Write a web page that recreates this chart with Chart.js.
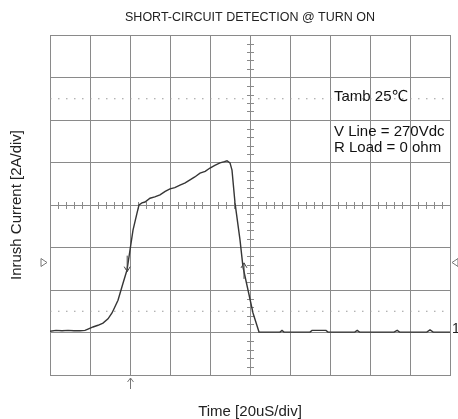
<!DOCTYPE html>
<html><head><meta charset="utf-8">
<script src="https://cdn.jsdelivr.net/npm/chart.js@4/dist/chart.umd.min.js"></script>
<style>html,body{margin:0;padding:0;background:#fff;overflow:hidden}</style>
</head><body>
<canvas id="c" width="458" height="419"></canvas>
<script>
// ---- data (time in divisions of 20uS, current in divisions of 2A) ----
const traceTime = [0, 0.15, 0.3, 0.45, 0.6, 0.75, 0.875, 0.95, 1.075, 1.2, 1.325, 1.45, 1.55, 1.7, 1.825, 1.925, 2.0, 2.075, 2.175, 2.225,
  2.3, 2.375, 2.5, 2.62, 2.75, 2.88, 3.0, 3.12, 3.25, 3.38, 3.5, 3.62, 3.75, 3.88, 4.0, 4.12, 4.25, 4.36, 4.425, 4.5, 4.55, 4.625, 4.75, 4.825, 4.95, 5.075, 5.225,
  5.5, 5.75, 5.8, 5.85, 6.2, 6.5, 6.55, 6.9, 6.95, 7.3, 7.62, 7.68, 7.74, 8.1, 8.6, 8.68, 8.74, 9.1, 9.42, 9.5, 9.58, 10];
const traceCurrent = [1.03, 1.05, 1.04, 1.05, 1.04, 1.04, 1.05, 1.08, 1.13, 1.17, 1.22, 1.32, 1.46, 1.76, 2.16, 2.47, 2.94, 3.41, 3.81, 4.0,
  4.05, 4.07, 4.16, 4.19, 4.24, 4.32, 4.38, 4.41, 4.47, 4.52, 4.59, 4.66, 4.75, 4.79, 4.87, 4.93, 4.99, 5.02, 5.04, 4.99, 4.82, 4.05, 3.18, 2.54, 2.0, 1.46, 1.01,
  1.01, 1.01, 1.05, 1.01, 1.01, 1.01, 1.05, 1.05, 1.01, 1.01, 1.01, 1.05, 1.01, 1.01, 1.01, 1.05, 1.01, 1.01, 1.01, 1.06, 1.01, 1.01];
const cursorLevels = [6.5, 1.5];
const timeRange = [0, 10];
const currentRange = [0, 8];
const centerTime = 5;
const centerLevel = 4;
const minorPerDiv = 5;
const triggerTime = 2.0;
const cursorDown = {t: 1.93, i: 2.62};
const cursorUp = {t: 4.85, i: 2.45};
const triggerLevel = 2.66;
const groundLevel = 1.01;
const notes = [
  {t: 7.1, i: 6.54, text: 'Tamb 25\u2103'},
  {t: 7.1, i: 5.72, text: 'V Line = 270Vdc'},
  {t: 7.1, i: 5.34, text: 'R Load = 0 ohm'}
];
const titleText = 'SHORT-CIRCUIT DETECTION @ TURN ON';
const xTitle = 'Time [20uS/div]';
const yTitle = 'Inrush Current [2A/div]';

// ---- styles ----
const FONT = '"Liberation Sans", Arial, "DejaVu Sans", sans-serif';
const gridColor = '#8a8a8a';
const traceColor = '#363636';

const toPts = (xs, ys) => xs.map((v, k) => ({x: v, y: ys[k]}));

const datasets = [{
  data: toPts(traceTime, traceCurrent),
  borderColor: traceColor, borderWidth: 1.4, pointRadius: 0, tension: 0, order: 0
}];
cursorLevels.forEach(l => datasets.push({
  data: [{x: timeRange[0], y: l}, {x: timeRange[1], y: l}],
  borderColor: '#9a9a9a', borderWidth: 1, borderDash: [1.5, 6.5], pointRadius: 0, order: 1
}));

const extras = {
  id: 'scopeExtras',
  beforeDatasetsDraw(chart) {
    const {ctx, scales: {x, y}} = chart;
    ctx.save();
    ctx.strokeStyle = gridColor;
    ctx.lineWidth = 1;
    const cx = Math.round(x.getPixelForValue(centerTime)) + 0.5;
    const cy = Math.round(y.getPixelForValue(centerLevel)) + 0.5;
    ctx.beginPath();
    const ny = (currentRange[1] - currentRange[0]) * minorPerDiv;
    for (let k = 1; k < ny; k++) {
      if (k % minorPerDiv === 0) continue;
      const py = Math.round(y.getPixelForValue(currentRange[0] + k / minorPerDiv)) + 0.5;
      ctx.moveTo(cx - 3.5, py); ctx.lineTo(cx + 3.5, py);
    }
    const nx = (timeRange[1] - timeRange[0]) * minorPerDiv;
    for (let k = 1; k < nx; k++) {
      if (k % minorPerDiv === 0) continue;
      const px = Math.round(x.getPixelForValue(timeRange[0] + k / minorPerDiv)) + 0.5;
      ctx.moveTo(px, cy - 3.5); ctx.lineTo(px, cy + 3.5);
    }
    ctx.stroke();
    ctx.restore();
  },
  afterDraw(chart) {
    const {ctx, scales: {x, y}, chartArea: a} = chart;
    ctx.save();
    // notes
    ctx.fillStyle = '#111';
    ctx.font = '15px ' + FONT;
    ctx.textBaseline = 'middle';
    ctx.textAlign = 'left';
    notes.forEach(n => ctx.fillText(n.text, x.getPixelForValue(n.t), y.getPixelForValue(n.i)));
    // channel ground marker
    ctx.font = '14px ' + FONT;
    ctx.textBaseline = 'alphabetic';
    ctx.fillStyle = '#222';
    ctx.fillText('1', a.right + 2, y.getPixelForValue(groundLevel) + 0.5);
    // trigger level triangles
    ctx.strokeStyle = '#777';
    ctx.lineWidth = 1;
    const ty = Math.round(y.getPixelForValue(triggerLevel)) + 0.5;
    ctx.beginPath();
    ctx.moveTo(a.left - 9, ty - 4); ctx.lineTo(a.left - 3, ty); ctx.lineTo(a.left - 9, ty + 4); ctx.closePath();
    ctx.moveTo(a.right + 8, ty - 4); ctx.lineTo(a.right + 2, ty); ctx.lineTo(a.right + 8, ty + 4); ctx.closePath();
    ctx.stroke();
    // trigger time arrow below plot
    const tx = Math.round(x.getPixelForValue(triggerTime)) + 0.5;
    ctx.beginPath();
    ctx.moveTo(tx, a.bottom + 3); ctx.lineTo(tx, a.bottom + 14);
    ctx.moveTo(tx - 3, a.bottom + 7); ctx.lineTo(tx, a.bottom + 3); ctx.lineTo(tx + 3, a.bottom + 7);
    ctx.stroke();
    // cursor arrows on trace
    ctx.strokeStyle = '#444';
    const dx = x.getPixelForValue(cursorDown.t), dy = y.getPixelForValue(cursorDown.i);
    ctx.beginPath();
    ctx.moveTo(dx, dy - 8); ctx.lineTo(dx, dy + 8);
    ctx.moveTo(dx - 3, dy + 3); ctx.lineTo(dx, dy + 8); ctx.lineTo(dx + 3, dy + 3);
    ctx.stroke();
    const ux = x.getPixelForValue(cursorUp.t), uy = y.getPixelForValue(cursorUp.i);
    ctx.beginPath();
    ctx.moveTo(ux, uy - 8); ctx.lineTo(ux, uy + 8);
    ctx.moveTo(ux - 3, uy - 3); ctx.lineTo(ux, uy - 8); ctx.lineTo(ux + 3, uy - 3);
    ctx.stroke();
    ctx.restore();
  }
};

new Chart(document.getElementById('c'), {
  type: 'line',
  data: {datasets},
  plugins: [extras],
  options: {
    responsive: false,
    animation: false,
    devicePixelRatio: 1,
    layout: {padding: {left: 0, right: 8, top: 0, bottom: 0}},
    plugins: {
      legend: {display: false},
      tooltip: {enabled: false},
      title: {
        display: true, text: titleText, color: '#222', fullSize: false,
        font: {family: FONT, size: 12.5, weight: 'normal'},
        padding: {top: 10, bottom: 10}
      }
    },
    scales: {
      x: {
        type: 'linear', min: timeRange[0], max: timeRange[1],
        ticks: {display: false, stepSize: 1},
        grid: {color: gridColor, drawTicks: false, lineWidth: 1},
        border: {display: true, color: gridColor},
        title: {display: true, text: xTitle, color: '#222', font: {family: FONT, size: 15}, padding: {top: 0, bottom: -2}},
        afterFit(s) { s.height = 44; }
      },
      y: {
        type: 'linear', min: currentRange[0], max: currentRange[1],
        ticks: {display: false, stepSize: 1},
        grid: {color: gridColor, drawTicks: false, lineWidth: 1},
        border: {display: true, color: gridColor},
        title: {display: true, text: yTitle, color: '#222', font: {family: FONT, size: 15}, padding: {top: 8, bottom: 0}},
        afterFit(s) { s.width = 50; }
      }
    }
  }
});
</script>
</body></html>
